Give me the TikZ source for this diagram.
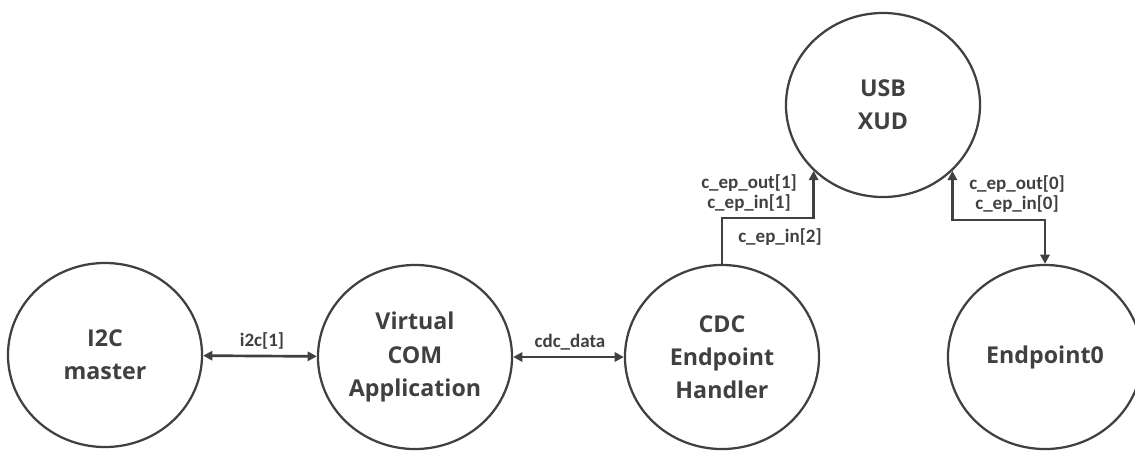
\documentclass[tikz,border=0pt]{standalone}
\usepackage{fontspec}
\setmainfont{Open Sans}
\newfontfamily\labelfont{Carlito}
\usetikzlibrary{shapes.geometric, arrows.meta, positioning}
\definecolor{ink}{HTML}{404040}
\tikzset{%
  >={Triangle[width=6.5pt, length=6.5pt]}, % small solid arrow heads
  % round blocks of the diagram
  block/.style={ellipse, draw=ink, line width=1.6pt, fill=white, text=ink,
    minimum width=4.85cm, minimum height=4.6cm, inner sep=0pt, align=center,
    font=\fontsize{16.5}{23.5}\selectfont\bfseries},
  % channel between two blocks
  chan/.style={draw=ink, line width=1.9pt},
  % text on a channel
  chanlabel/.style={text=ink, align=center, inner sep=0pt,
    font=\labelfont\fontsize{13.5}{14.2}\selectfont\bfseries}
}

\begin{document}
\begin{tikzpicture}[x=0.025cm, y=-0.025cm]
  \useasboundingbox (0,0) rectangle (1135,450);

  % the blocks
  \node[block] (i2c) at (105,355) {I2C\\master};
  \node[block] (vcom) at (415,357) {Virtual\\COM\\Application};
  \node[block] (cdc) at (722,357) {CDC\\Endpoint\\Handler};
  \node[block] (usb) at (883,105) {USB\\XUD};
  \node[block] (ep0) at (1045,357) {Endpoint0};

  % channels
  \draw[chan, <->] (i2c) -- (vcom);
  \draw[chan, <->] (vcom) -- (cdc);
  \draw[chan, ->] (cdc.north) -- ++(0,-46) -| (usb.south west);
  \draw[chan, <->] (usb.south east) -- ++(0,49) -| (ep0.north);

  % channel names
  \node[chanlabel] (li2c) at (262,341) {i2c[1]};
  \node[chanlabel] (lcdc) at (570,342) {cdc\_data};
  \node[chanlabel] (lep1) at (749,193) {c\_ep\_out[1]\\c\_ep\_in[1]};
  \node[chanlabel] (lep2) at (780,237) {c\_ep\_in[2]};
  \node[chanlabel] (lep0) at (1017,194) {c\_ep\_out[0]\\c\_ep\_in[0]};
\end{tikzpicture}
\end{document}
